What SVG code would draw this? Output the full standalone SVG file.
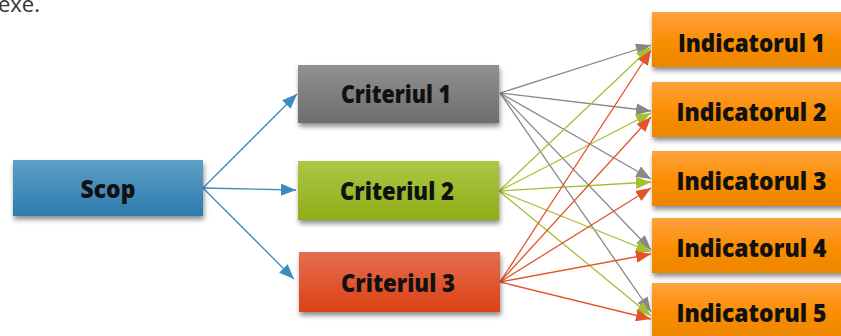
<svg xmlns="http://www.w3.org/2000/svg" width="841" height="336" viewBox="0 0 841 336">
  <style>
    .lbl { font-family: "Open Sans", "Liberation Sans", sans-serif; font-weight: 800; font-size: 25px; fill: #111; text-anchor: middle; }
    .top { font-family: "Open Sans", "Liberation Sans", sans-serif; font-size: 22px; fill: #333; }
    .box { filter: url(#sh); }
    .gray { stroke: #888; stroke-width: 1.3; fill: none; marker-end: url(#mGray); }
    .green { stroke: #a5c02f; stroke-width: 1.3; fill: none; marker-end: url(#mGreen); }
    .orange { stroke: #e2542a; stroke-width: 1.3; fill: none; marker-end: url(#mOrange); }
    .blue { stroke: #3b8bbf; stroke-width: 1.3; fill: none; marker-end: url(#mBlue); }
  </style>
  <defs>
    <filter id="sh" x="-10%" y="-20%" width="130%" height="160%">
      <feDropShadow dx="1" dy="3.5" stdDeviation="2.5" flood-color="#000" flood-opacity="0.45"/>
    </filter>
    <linearGradient id="gBlue" x1="0" y1="0" x2="0" y2="1">
      <stop offset="0" stop-color="#5e9fc8"/>
      <stop offset="1" stop-color="#2d7bae"/>
    </linearGradient>
    <linearGradient id="gGray" x1="0" y1="0" x2="0" y2="1">
      <stop offset="0" stop-color="#919191"/>
      <stop offset="1" stop-color="#6d6d6d"/>
    </linearGradient>
    <linearGradient id="gGreen" x1="0" y1="0" x2="0" y2="1">
      <stop offset="0" stop-color="#acc744"/>
      <stop offset="1" stop-color="#90ad18"/>
    </linearGradient>
    <linearGradient id="gRed" x1="0" y1="0" x2="0" y2="1">
      <stop offset="0" stop-color="#e66c50"/>
      <stop offset="1" stop-color="#dc4314"/>
    </linearGradient>
    <linearGradient id="gOrange" x1="0" y1="0" x2="0" y2="1">
      <stop offset="0" stop-color="#ffa23f"/>
      <stop offset="0.5" stop-color="#fb8f06"/>
      <stop offset="1" stop-color="#ec8500"/>
    </linearGradient>
    <marker id="mGray" markerUnits="userSpaceOnUse" markerWidth="15" markerHeight="12" refX="15" refY="6" orient="auto"><path d="M0,0 L15,6 L0,12 z" fill="#888"/></marker>
    <marker id="mGreen" markerUnits="userSpaceOnUse" markerWidth="15" markerHeight="12" refX="15" refY="6" orient="auto"><path d="M0,0 L15,6 L0,12 z" fill="#a5c02f"/></marker>
    <marker id="mOrange" markerUnits="userSpaceOnUse" markerWidth="15" markerHeight="12" refX="15" refY="6" orient="auto"><path d="M0,0 L15,6 L0,12 z" fill="#e2542a"/></marker>
    <marker id="mBlue" markerUnits="userSpaceOnUse" markerWidth="15" markerHeight="12" refX="15" refY="6" orient="auto"><path d="M0,0 L15,6 L0,12 z" fill="#3b8bbf"/></marker>
  </defs>

  <rect width="841" height="336" fill="#fff"/>
  <text class="top" x="-2" y="12">exe.</text>

  <g id="connectors">
    <line class="blue" x1="203" y1="188" x2="297" y2="94"/>
    <line class="blue" x1="203" y1="188" x2="296" y2="190"/>
    <line class="blue" x1="203" y1="188" x2="294" y2="279"/>

    <line class="gray" x1="500" y1="93" x2="651" y2="45"/>
    <line class="gray" x1="500" y1="93" x2="651" y2="111"/>
    <line class="gray" x1="500" y1="93" x2="651" y2="179"/>
    <line class="gray" x1="500" y1="93" x2="651" y2="250"/>
    <line class="gray" x1="500" y1="93" x2="651" y2="312"/>

    <line class="green" x1="499" y1="191" x2="651" y2="47"/>
    <line class="green" x1="499" y1="191" x2="651" y2="113"/>
    <line class="green" x1="499" y1="191" x2="651" y2="182"/>
    <line class="green" x1="499" y1="191" x2="651" y2="252"/>
    <line class="green" x1="499" y1="191" x2="651" y2="316"/>

    <line class="orange" x1="500" y1="282" x2="651" y2="50"/>
    <line class="orange" x1="500" y1="282" x2="651" y2="117"/>
    <line class="orange" x1="500" y1="282" x2="651" y2="188"/>
    <line class="orange" x1="500" y1="282" x2="651" y2="254"/>
    <line class="orange" x1="500" y1="282" x2="651" y2="319"/>
  </g>

  <g id="scop">
    <rect class="box" x="13" y="160" width="190" height="56" fill="url(#gBlue)"/>
    <text class="lbl" x="108" y="198" textLength="55" lengthAdjust="spacingAndGlyphs">Scop</text>
  </g>

  <g id="criteriul1">
    <rect class="box" x="298" y="65" width="201" height="58" fill="url(#gGray)"/>
    <text class="lbl" x="396" y="103" textLength="110" lengthAdjust="spacingAndGlyphs">Criteriul 1</text>
  </g>
  <g id="criteriul2">
    <rect class="box" x="298" y="161" width="201" height="59" fill="url(#gGreen)"/>
    <text class="lbl" x="397" y="199.5" textLength="114" lengthAdjust="spacingAndGlyphs">Criteriul 2</text>
  </g>
  <g id="criteriul3">
    <rect class="box" x="299" y="252" width="201" height="60" fill="url(#gRed)"/>
    <text class="lbl" x="398" y="291.5" textLength="114" lengthAdjust="spacingAndGlyphs">Criteriul 3</text>
  </g>

  <g id="indicatorul1">
    <rect class="box" x="652" y="12" width="200" height="55" fill="url(#gOrange)"/>
    <text class="lbl" x="751.5" y="52" textLength="147" lengthAdjust="spacingAndGlyphs">Indicatorul 1</text>
  </g>
  <g id="indicatorul2">
    <rect class="box" x="652" y="82" width="200" height="55" fill="url(#gOrange)"/>
    <text class="lbl" x="751.5" y="121" textLength="150" lengthAdjust="spacingAndGlyphs">Indicatorul 2</text>
  </g>
  <g id="indicatorul3">
    <rect class="box" x="652" y="151" width="200" height="55" fill="url(#gOrange)"/>
    <text class="lbl" x="751.5" y="190" textLength="150" lengthAdjust="spacingAndGlyphs">Indicatorul 3</text>
  </g>
  <g id="indicatorul4">
    <rect class="box" x="652" y="218" width="200" height="55" fill="url(#gOrange)"/>
    <text class="lbl" x="751.5" y="257" textLength="150" lengthAdjust="spacingAndGlyphs">Indicatorul 4</text>
  </g>
  <g id="indicatorul5">
    <rect class="box" x="652" y="283" width="200" height="55" fill="url(#gOrange)"/>
    <text class="lbl" x="751.5" y="322" textLength="150" lengthAdjust="spacingAndGlyphs">Indicatorul 5</text>
  </g>
</svg>
